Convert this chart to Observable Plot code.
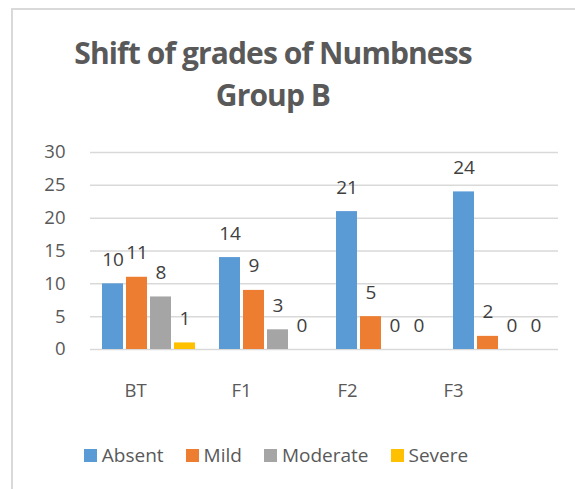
<!DOCTYPE html>
<html>
<head>
<meta charset="utf-8">
<script src="https://cdn.jsdelivr.net/npm/d3@7"></script>
<script src="https://cdn.jsdelivr.net/npm/@observablehq/plot@0.6"></script>
<style>
  html, body { margin: 0; padding: 0; background: #fff; }
  body { width: 575px; height: 489px; position: relative; overflow: hidden; font-family: "Open Sans", sans-serif; }
  #frame { position: absolute; left: 11px; top: 8px; width: 620px; height: 600px; border-left: 2px solid #d9d9d9; border-top: 2px solid #d9d9d9; }
  #title { position: absolute; left: 0; top: 32px; width: 546px; text-align: center; font-weight: 700; font-size: 30px; letter-spacing: -0.9px; line-height: 42px; color: #595959; }
  #chart { position: absolute; left: 0; top: 130px; }
  #cats { position: absolute; left: 0; top: 378px; }
  #legend { position: absolute; left: 0; top: 443px; width: 552px; height: 24px; display: flex; justify-content: center; align-items: center; font-size: 19px; color: #595959; }
  .item { display: flex; align-items: center; margin: 0 11px; }
  .sw { width: 13px; height: 13px; margin-right: 5px; }
</style>
</head>
<body>
<div id="frame"></div>
<div id="title">Shift of grades of Numbness<br>Group B</div>
<div id="chart"></div>
<div id="cats"></div>
<div id="legend"></div>
<script>
const groups = ["BT", "F1", "F2", "F3"];
const series = ["Absent", "Mild", "Moderate", "Severe"];
const absent = [10, 14, 21, 24];
const mild = [11, 9, 5, 2];
const moderate = [8, 3, 0, 0];
const severe = [1, 0, 0, 0];
const colors = ["#5B9BD5", "#ED7D31", "#A5A5A5", "#FFC000"];
const yTicks = [0, 5, 10, 15, 20, 25, 30];

const valuesBySeries = [absent, mild, moderate, severe];
const rows = [];
groups.forEach((g, gi) => {
  series.forEach((s, si) => {
    rows.push({group: g, series: s, value: valuesBySeries[si][gi]});
  });
});

const chart = Plot.plot({
  width: 575,
  height: 279,
  marginLeft: 89,
  marginRight: 17,
  marginTop: 22,
  marginBottom: 60,
  style: {fontFamily: "Open Sans, sans-serif", background: "transparent"},
  fx: {domain: groups, paddingInner: 0, paddingOuter: 0, axis: null, label: null},
  x: {domain: series, axis: null, paddingInner: 0.14, paddingOuter: 0.415},
  y: {domain: [0, 30], ticks: yTicks, tickSize: 0, tickPadding: 25, label: null},
  color: {domain: series, range: colors},
  marks: [
    Plot.ruleY(yTicks, {stroke: "#d9d9d9", strokeWidth: 1.5}),
    Plot.barY(rows, {fx: "group", x: "series", y: "value", fill: "series"}),
    Plot.text(rows, {fx: "group", x: "series", y: "value", text: d => String(d.value), lineAnchor: "bottom", dy: -18, fontSize: 19, fill: "#404040"})
  ]
});
chart.querySelectorAll("[aria-label='y-axis tick label']").forEach(g => { g.setAttribute("fill", "#595959"); g.setAttribute("font-size", "18.5"); });
document.getElementById("chart").appendChild(chart);

const cats = Plot.plot({
  width: 575,
  height: 30,
  marginTop: 0,
  marginBottom: 25,
  style: {fontFamily: "Open Sans, sans-serif", background: "transparent"},
  x: {type: "point", domain: groups, range: [134, 454], padding: 0, label: null},
  marks: [
    Plot.axisX(groups, {anchor: "bottom", tickSize: 0, tickPadding: 0, label: null, fontSize: 18.5, fill: "#595959"})
  ]
});
document.getElementById("cats").appendChild(cats);

const legend = document.getElementById("legend");
series.forEach((s, i) => {
  const item = document.createElement("div");
  item.className = "item";
  const sw = document.createElement("div");
  sw.className = "sw";
  sw.style.background = colors[i];
  const label = document.createElement("span");
  label.textContent = s;
  item.appendChild(sw);
  item.appendChild(label);
  legend.appendChild(item);
});
</script>
</body>
</html>
